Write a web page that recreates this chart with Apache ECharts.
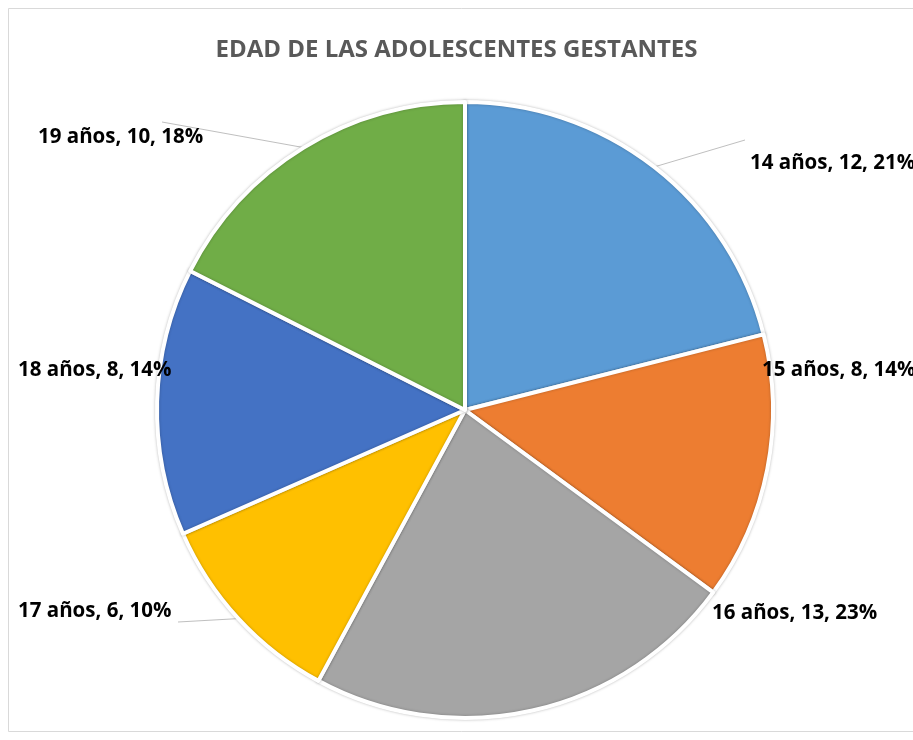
<!DOCTYPE html>
<html>
<head>
<meta charset="utf-8">
<script src="https://cdn.jsdelivr.net/npm/echarts@6/dist/echarts.min.js"></script>
<style>
  html, body { margin: 0; padding: 0; background: #fff; }
  #main { width: 913px; height: 740px; }
</style>
</head>
<body>
<div id="main"></div>
<script>
// datos
const categories = ['14 años', '15 años', '16 años', '17 años', '18 años', '19 años'];
const values = [12, 8, 13, 6, 8, 10];
const colors = ['#5B9BD5', '#ED7D31', '#A5A5A5', '#FFC000', '#4472C4', '#70AD47'];

// label placement (x, y, align) and whether a leader line is drawn
const labelSpots = [
  { x: 750, y: 163, align: 'left', line: [745, 140] },
  { x: 762, y: 370, align: 'left' },
  { x: 712, y: 613, align: 'left' },
  { x: 18, y: 611, align: 'left', line: [178, 622] },
  { x: 18, y: 370, align: 'left' },
  { x: 38, y: 137, align: 'left', line: [162, 122] }
];

const chartDom = document.getElementById('main');
const myChart = echarts.init(chartDom);

const option = {
  backgroundColor: '#fff',
  title: {
    text: 'EDAD DE LAS ADOLESCENTES GESTANTES',
    left: 'center',
    top: 33,
    textStyle: {
      fontFamily: 'Open Sans',
      fontWeight: 'bold',
      fontSize: 24,
      color: '#595959'
    }
  },
  graphic: [
    {
      type: 'rect',
      shape: { x: 8.5, y: 8.5, width: 960, height: 723 },
      style: { fill: 'none', stroke: '#d9d9d9', lineWidth: 1 },
      silent: true
    }
  ],
  series: [
    {
      type: 'pie',
      center: [465, 410],
      radius: 308,
      startAngle: 90,
      clockwise: true,
      percentPrecision: 0,
      itemStyle: {
        borderColor: '#fff',
        borderWidth: 4,
        shadowColor: 'rgba(0,0,0,0.25)',
        shadowBlur: 3
      },
      label: {
        show: true,
        formatter: '{b}, {c}, {d}%',
        fontFamily: 'Open Sans',
        fontWeight: 'bold',
        fontSize: 20.5,
        color: '#000',
        overflow: 'none'
      },
      labelLine: {
        show: true,
        lineStyle: { color: '#bfbfbf', width: 1 }
      },
      labelLayout: function (params) {
        const s = labelSpots[params.dataIndex];
        const res = { x: s.x, y: s.y, align: s.align, verticalAlign: 'middle' };
        if (s.line && params.labelLinePoints) {
          res.labelLinePoints = [params.labelLinePoints[0], s.line];
        }
        return res;
      },
      data: categories.map((name, i) => ({
        name: name,
        value: values[i],
        itemStyle: { color: colors[i] },
        labelLine: { show: !!labelSpots[i].line }
      }))
    }
  ]
};

option && myChart.setOption(option);
</script>
</body>
</html>
